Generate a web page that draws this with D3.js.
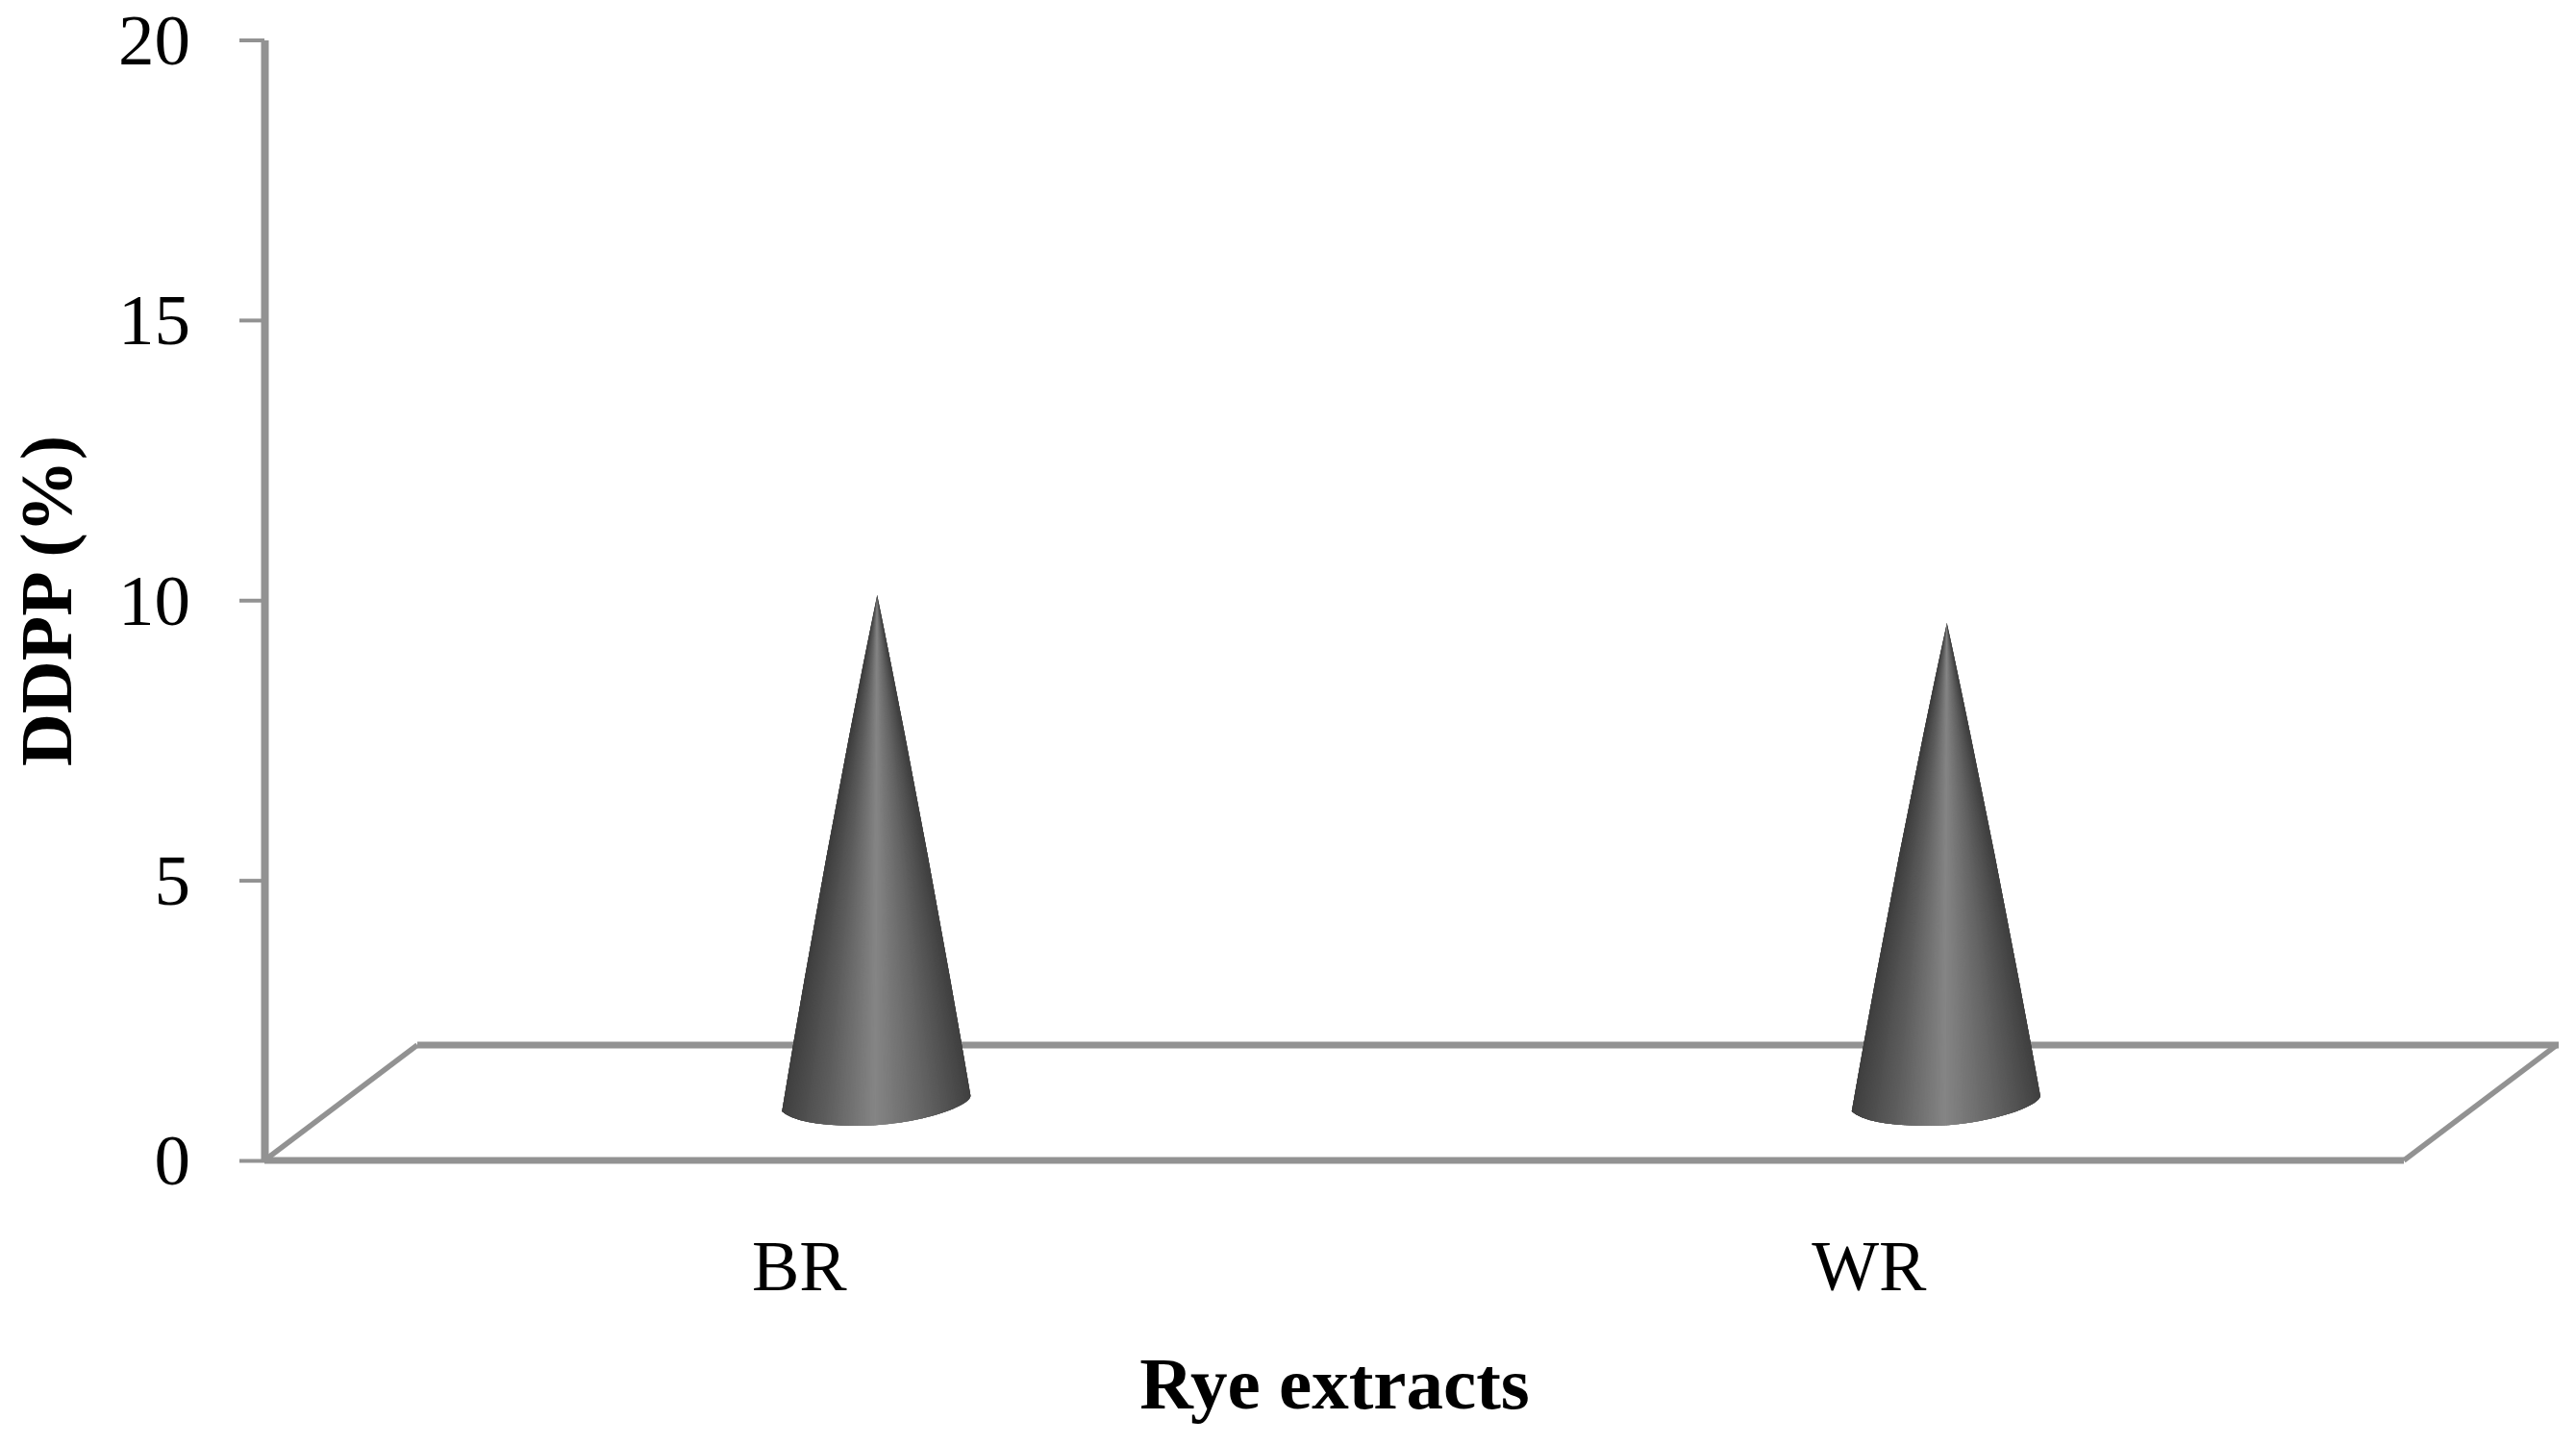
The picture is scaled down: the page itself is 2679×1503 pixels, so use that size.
<!DOCTYPE html>
<html lang="en">
<head>
    <meta charset="UTF-8">
    <title>DDPP of rye extracts</title>
    <script src="https://d3js.org/d3.v7.min.js"></script>
    <style>
        body { margin: 0; background: #fff; }
        svg { display: block; }
        text { font-family: "Liberation Serif", serif; fill: #000; }
    </style>
</head>
<body>
    <div id="chart-container"></div>

    <script>
        // Values
        const categories = ["BR", "WR"];
        const ddpp = [10.1, 9.6];
        const yTicks = [0, 5, 10, 15, 20];
        const xTitle = "Rye extracts";
        const yTitle = "DDPP (%)";

        const width = 2679;
        const height = 1503;
        const axisColor = "#929292";

        const svg = d3.select("#chart-container")
            .append("svg")
            .attr("width", width)
            .attr("height", height);

        const xScale = d3.scaleBand().domain(categories).range([275, 2500]);
        const yScale = d3.scaleLinear().domain([0, 20]).range([1207, 41.5]);

        // Floor of the 3D chart, back edge is shifted by the depth
        const depth = { x: 159, y: -120 };
        const x0 = xScale.range()[0];
        const x1 = xScale.range()[1];
        const y0 = yScale(0);
        const line = d3.line();

        svg.append("path")
            .attr("d", line([[x0, y0], [x0 + depth.x, y0 + depth.y]]))
            .attr("stroke", axisColor).attr("stroke-width", 5.5).attr("fill", "none");
        svg.append("path")
            .attr("d", line([[x1, y0], [x1 + depth.x, y0 + depth.y]]))
            .attr("stroke", axisColor).attr("stroke-width", 5.5).attr("fill", "none");
        svg.append("path")
            .attr("d", line([[x0 + depth.x, y0 + depth.y], [x1 + depth.x + 2, y0 + depth.y]]))
            .attr("stroke", axisColor).attr("stroke-width", 7).attr("fill", "none");
        svg.append("path")
            .attr("d", line([[x0, y0], [x1, y0]]))
            .attr("stroke", axisColor).attr("stroke-width", 7).attr("fill", "none");

        // Y axis
        const yAxis = svg.append("g")
            .attr("transform", `translate(${x0},0)`)
            .call(d3.axisLeft(yScale).tickValues(yTicks).tickSize(26).tickSizeOuter(0).tickPadding(51));
        yAxis.select(".domain").attr("stroke", axisColor).attr("stroke-width", 8);
        yAxis.selectAll(".tick line").attr("stroke", axisColor).attr("stroke-width", 4);
        yAxis.selectAll(".tick text")
            .attr("dy", "0.33em")
            .style("font-family", '"Liberation Serif", serif')
            .style("font-size", "75px")
            .attr("fill", "#000");

        // X axis, only labels
        const xAxis = svg.append("g")
            .attr("transform", `translate(0,${y0})`)
            .call(d3.axisBottom(xScale).tickSize(0).tickPadding(82));
        xAxis.select(".domain").remove();
        xAxis.selectAll(".tick text")
            .style("font-family", '"Liberation Serif", serif')
            .style("font-size", "74px")
            .attr("fill", "#000");

        // Cones: shaded as a fan of thin wedges from the tip, clipped to the outline
        const shade = d3.scaleLinear()
            .domain([0, 0.25, 0.5, 0.75, 1])
            .range(["#3e3e3e", "#5e5e5e", "#858585", "#646464", "#404040"])
            .clamp(true);
        const wedgeSteps = d3.range(-0.08, 1.08, 1 / 120);
        const tipShift = 81;

        categories.forEach((cat, i) => {
            const tipX = xScale(cat) + xScale.bandwidth() / 2 + tipShift;
            const tipY = yScale(ddpp[i]);
            const baseL = [tipX - 99, 1156];
            const baseR = [tipX + 97, 1139];

            // sides bulge a little, the base is a tilted ellipse
            const midL = [(tipX + baseL[0]) / 2 - 5, (tipY + baseL[1]) / 2];
            const midR = [(tipX + baseR[0]) / 2 + 4, (tipY + baseR[1]) / 2];
            const outline = d3.path();
            outline.moveTo(tipX, tipY);
            outline.quadraticCurveTo(midR[0], midR[1], baseR[0], baseR[1]);
            outline.bezierCurveTo(baseR[0] + 3, 1150, tipX + 40, 1172, tipX - 25, 1171);
            outline.quadraticCurveTo(baseL[0] + 15, 1170, baseL[0], baseL[1]);
            outline.quadraticCurveTo(midL[0], midL[1], tipX, tipY);
            outline.closePath();

            const clipId = `cone-clip-${i}`;
            svg.append("clipPath").attr("id", clipId)
                .append("path").attr("d", outline.toString());

            const cone = svg.append("g").attr("clip-path", `url(#${clipId})`);
            const far = 1.15;
            const spread = t => {
                const bx = baseL[0] + (baseR[0] - baseL[0]) * t;
                const by = baseL[1] + (baseR[1] - baseL[1]) * t;
                return [tipX + (bx - tipX) * far, tipY + (by - tipY) * far];
            };
            cone.selectAll("path")
                .data(wedgeSteps)
                .enter()
                .append("path")
                .attr("d", t => line([[tipX, tipY], spread(t - 0.01), spread(t + 0.02)]) + "Z")
                .attr("fill", t => shade(t));
        });

        // Axis titles
        svg.append("text")
            .attr("x", 1388)
            .attr("y", 1465)
            .attr("text-anchor", "middle")
            .attr("font-weight", "bold")
            .attr("font-size", 77)
            .text(xTitle);

        svg.append("text")
            .attr("transform", "translate(74,625) rotate(-90)")
            .attr("text-anchor", "middle")
            .attr("font-weight", "bold")
            .attr("font-size", 76)
            .text(yTitle);
    </script>
</body>
</html>
